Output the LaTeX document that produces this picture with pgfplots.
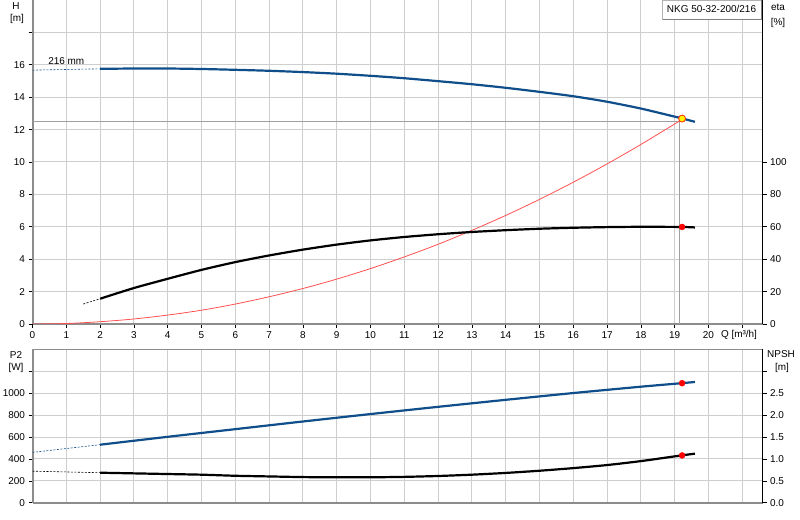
\documentclass[border=0pt]{standalone}
\usepackage{fontspec}
\setmainfont{Liberation Sans}
\usepackage{pgfplots}
\pgfplotsset{compat=1.18}

\definecolor{pumpblue}{RGB}{16,78,139}
\definecolor{gridgray}{RGB}{206,206,206}
\definecolor{axisgray}{RGB}{140,140,140}
\definecolor{refgray}{RGB}{160,160,160}
\definecolor{syscurve}{RGB}{255,80,80}

\pgfplotsset{
  pump/.style={
    scale only axis,
    width=730bp,
    xmin=0, xmax=21.6,
    tick align=outside,
    major tick length=4bp,
    tick style={black, line width=0.6bp},
    tick label style={font=\fontsize{10}{11}\selectfont},
    /pgf/number format/assume math mode=true,
  },
  leftax/.style={
    pump,
    axis x line*=bottom, axis y line*=left,
    axis line style={axisgray, line width=2bp, -},
    xtick={0,...,21},
    grid=major,
    grid style={gridgray, line width=1bp},
  },
  rightax/.style={
    pump,
    axis x line=none, axis y line*=right,
    axis line style={black, line width=0.8bp, -},
  },
  ext/.style={line width=0.6bp, dash pattern=on 2bp off 1.5bp},
  curve/.style={line width=2.2bp, smooth, tension=0.4},
}

\begin{document}
\begin{tikzpicture}[x=1bp,y=1bp]
\path[use as bounding box] (0,0) rectangle (800,520);

% ---- upper panel: H and system curve
\begin{axis}[leftax,
    at={(32.5bp,196bp)}, anchor=south west, height=324bp,
    ymin=0, ymax=20,
    ytick={0,2,...,18},
    yticklabels={0,2,4,6,8,10,12,14,16,{}},
    xticklabels={0,1,2,3,4,5,6,7,8,9,10,11,12,13,14,15,16,17,18,19,20,{}},
]
\addplot[refgray, line width=1.5bp] coordinates {(0,12.5) (19.15,12.5)};
\addplot[refgray, line width=1.5bp] coordinates {(19.15,0) (19.15,12.5)};
\addplot[syscurve, line width=0.8bp, smooth] coordinates {
  (0,0) (1,0.03) (2,0.14) (3,0.31) (4,0.55) (5,0.85) (6,1.23) (7,1.68)
  (8,2.19) (9,2.77) (10,3.42) (11,4.14) (12,4.92) (13,5.78) (14,6.70)
  (15,7.69) (16,8.75) (17,9.88) (18,11.08) (19.2,12.6)
};
\addplot[pumpblue, ext] coordinates {(0,15.67) (2,15.75)};
\addplot[pumpblue, curve] coordinates {
  (2,15.75) (3,15.77) (4,15.77) (5,15.74) (6,15.69) (7,15.63) (8,15.55)
  (9,15.45) (10,15.32) (11,15.17) (12,14.99) (13,14.80) (14,14.58)
  (15,14.33) (16,14.06) (17,13.72) (18,13.30) (19,12.80) (19.2,12.70)
  (19.6,12.48)
};
\addplot[only marks, mark=*, mark size=3.5bp,
  mark options={fill=yellow, draw=red!70!orange, line width=0.8bp}]
  coordinates {(19.22,12.68)};
\node[font=\fontsize{10}{11}\selectfont] at (axis cs:1.0,16.25) {216 mm};
\end{axis}

% ---- upper panel: efficiency
\begin{axis}[rightax,
    at={(32.5bp,196bp)}, anchor=south west, height=324bp,
    ymin=0, ymax=200,
    ytick={0,20,...,100},
]
\addplot[black, ext] coordinates {(1.5,12.3) (2,15.6)};
\addplot[black, curve] coordinates {
  (2,15.6) (3,22.2) (4,27.9) (5,33.4) (6,38.2) (7,42.3) (8,45.9)
  (9,49.0) (10,51.6) (11,53.7) (12,55.4) (13,56.8) (14,57.9) (15,58.8)
  (16,59.4) (17,59.8) (18,60.0) (19.2,59.9) (19.6,59.6)
};
\addplot[only marks, mark=*, mark size=3bp, red] coordinates {(19.22,59.9)};
\end{axis}

% ---- lower panel: P2
\begin{axis}[leftax,
    at={(32.5bp,17.3bp)}, anchor=south west, height=153.2bp,
    ymin=0, ymax=1400,
    ytick={0,200,...,1200},
    yticklabels={0,200,400,600,800,1000,{}},
    xticklabels={},
    major x tick style={draw=none},
]
\draw[axisgray, line width=2bp] (rel axis cs:0,1) -- (rel axis cs:1,1);
\addplot[pumpblue, ext] coordinates {(0,460) (2,530)};
\addplot[pumpblue, curve] coordinates {
  (2,530) (4,602) (6,672) (8,742) (10,810) (12,876) (14,940) (16,1002)
  (18,1060) (19.2,1092) (19.6,1103)
};
\addplot[only marks, mark=*, mark size=3bp, red] coordinates {(19.22,1092)};
\end{axis}

% ---- lower panel: NPSH
\begin{axis}[rightax,
    at={(32.5bp,17.3bp)}, anchor=south west, height=153.2bp,
    ymin=0, ymax=3.5,
    ytick={0,0.5,...,3},
    yticklabels={0.0,0.5,1.0,1.5,2.0,2.5,{}},
]
\addplot[black, ext] coordinates {(0,0.72) (2,0.685)};
\addplot[black, curve] coordinates {
  (2,0.685) (3,0.67) (4,0.655) (5,0.64) (6,0.615) (7,0.60) (8,0.585)
  (9,0.58) (10,0.58) (11,0.59) (12,0.61) (13,0.64) (14,0.68) (15,0.73)
  (16,0.79) (17,0.86) (18,0.95) (19.2,1.08) (19.6,1.12)
};
\addplot[only marks, mark=*, mark size=3bp, red] coordinates {(19.22,1.08)};
\end{axis}

% ---- axis titles and type label
\begin{scope}[every node/.style={font=\fontsize{10}{11}\selectfont, inner sep=0pt}]
\node at (16,514) {H};
\node at (17,501) {[m]};
\node at (778,513) {eta};
\node at (778,497) {[\%]};
\node at (16,165) {P2};
\node at (16,152) {[W]};
\node at (781,166) {NPSH};
\node at (782,152) {[m]};
\node at (739,185) {Q [m³/h]};
\draw[gray!60, fill=white] (662,501) rectangle (761,520);
\draw[gray, line width=0.8bp] (662.5,501) -- (761,501) -- (761,520);
\node at (711.5,511) {NKG 50-32-200/216};
\end{scope}
\end{tikzpicture}
\end{document}
